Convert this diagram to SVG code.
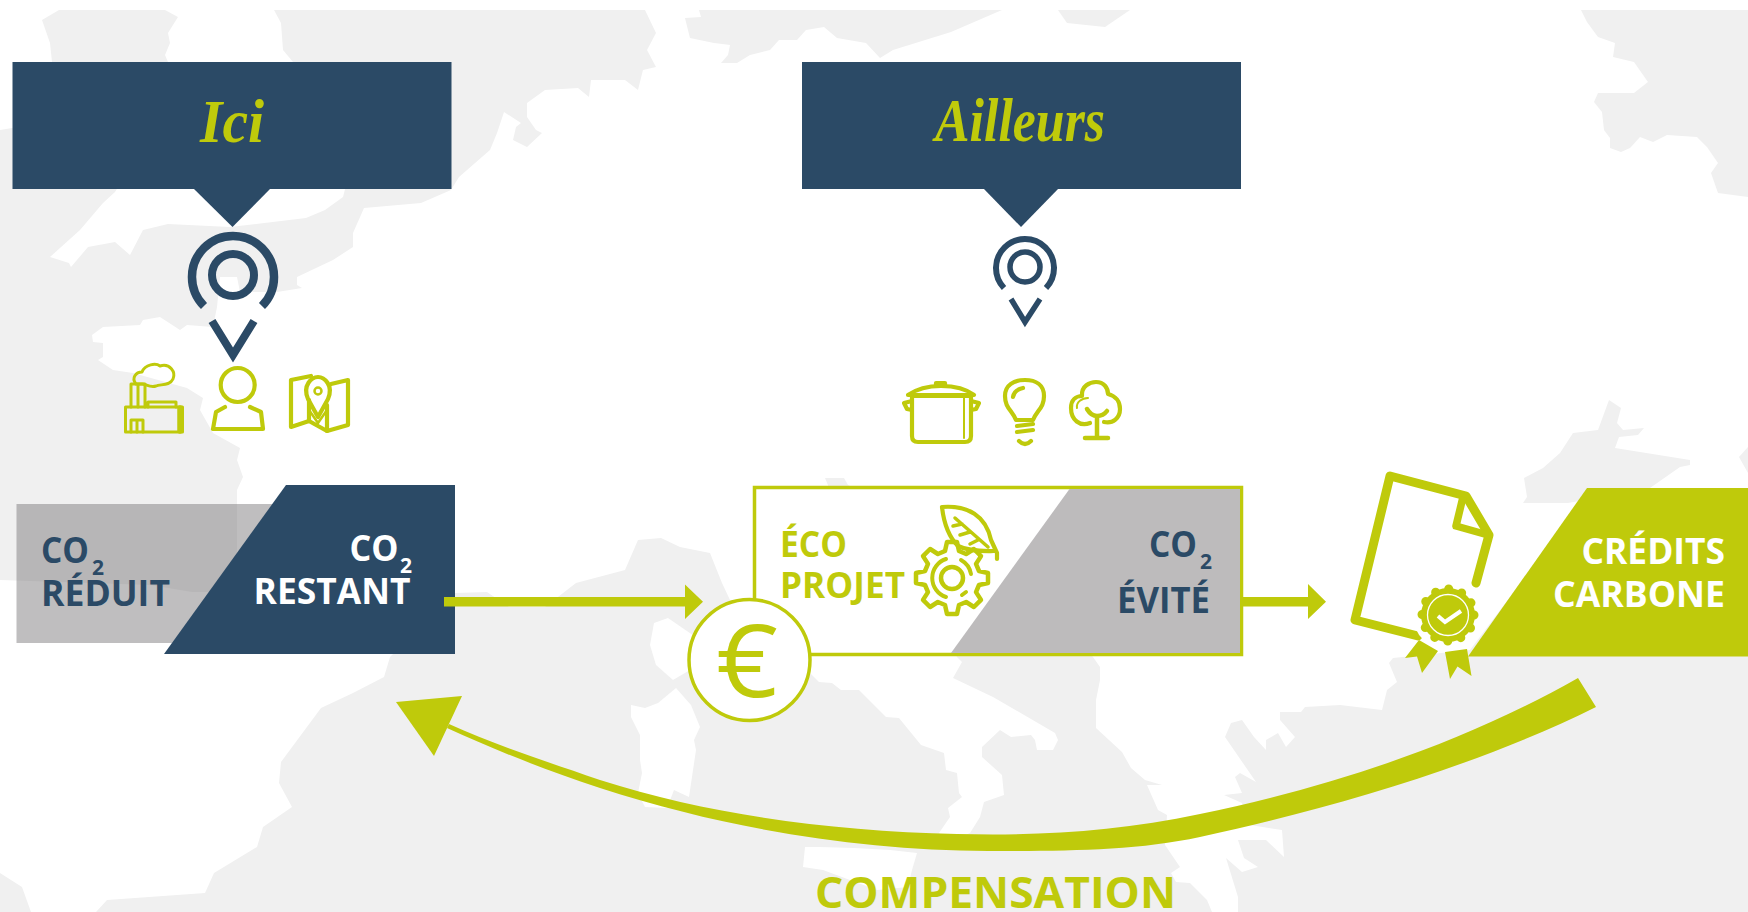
<svg xmlns="http://www.w3.org/2000/svg" width="1748" height="912" viewBox="0 0 1748 912">
<style>
.sea{fill:#f0f0f0}
.land{fill:#fff}
.navy{fill:#2b4a66}
.green{fill:#bfca0b}
.t{font-family:"Open Sans","Liberation Sans",sans-serif;font-weight:700}
.s{font-family:"Liberation Serif",serif;font-style:italic;font-weight:700;fill:#bfca0b;text-anchor:middle}
.tn{fill:#2b4a66}.tw{fill:#fff}.tg{fill:#bfca0b}
.ico{fill:none;stroke:#bfca0b;stroke-width:4.200;stroke-linejoin:round;stroke-linecap:round}
.pin{fill:none;stroke:#2b4a66}
</style>
<rect width="1748" height="912" fill="#fff"/>
<g id="map">
<rect class="sea" x="0" y="10" width="1748" height="902"/>
<polygon class="land" points="0,10 59,10 42,20 50,43 52,62 52,120 12,128 0,130"/>
<polygon class="land" points="165,10 178,17 168,33 170,43 165,55 168,62 160,120 115,192 103,203 80,230 50,257 69,263 71,267 88,247 115,242 130,255 143,230 168,224 230,227 306,218 325,210 343,197 345,189 300,70 293,62 283,50 281,23 274,10"/>
<polygon class="land" points="645,10 656,33 647,50 656,67 643,70 638,90 625,80 591,80 589,97 578,88 545,90 527,103 527,117 536,130 542,133 527,147 513,140 516,127 521,123 504,112 497,133 490,150 459,177 451,190 421,203 364,208 353,233 353,247 333,260 297,277 297,285 302,288 277,292 240,292 237,277 220,277 217,307 213,327 187,325 180,330 160,317 143,320 140,325 103,327 92,335 93,342 103,343 103,357 98,360 113,370 133,373 187,388 203,398 200,410 213,433 240,448 237,460 243,477 237,490 237,575 235,592 192,592 150,585 0,580 0,873 22,887 31,912 96,912 107,900 205,893 214,873 257,847 263,827 292,807 279,783 281,762 321,708 353,693 384,677 390,657 455,593 487,592 509,607 545,607 576,583 625,570 638,540 661,538 680,547 710,553 722,583 730,600 795,660 810,673 819,682 832,683 841,690 859,690 886,717 899,718 921,745 944,753 946,770 957,773 959,793 962,797 948,808 950,817 939,833 950,842 970,833 980,817 984,802 1004,795 1002,775 982,757 982,747 1000,730 1011,737 1031,735 1035,740 1037,750 1053,750 1058,740 1055,733 993,697 953,678 962,662 957,657 900,560 830,490 825,478 844,478 848,485 1000,560 1093,657 1100,667 1100,680 1096,700 1096,728 1122,752 1131,768 1145,780 1162,785 1147,785 1158,810 1167,815 1165,845 1180,867 1171,873 1176,882 1190,883 1207,900 1212,912 1238,912 1238,897 1226,858 1242,872 1258,867 1244,858 1238,840 1266,840 1284,857 1282,830 1250,825 1242,803 1224,795 1242,793 1235,777 1240,773 1256,782 1225,737 1231,723 1242,720 1254,737 1266,750 1266,740 1278,733 1286,747 1295,737 1280,720 1280,712 1301,712 1305,707 1340,705 1382,710 1387,690 1397,682 1389,663 1393,658 1470,650 1568,520 1748,500 1748,10"/>
<polygon class="land" points="668,618 654,623 650,645 656,665 673,680 690,670 700,640"/>
<polygon class="land" points="676,688 658,703 645,708 631,705 631,717 640,735 640,760 642,773 638,793 645,807 667,808 674,790 689,797 696,750 694,740 700,727 691,705"/>
<polygon class="land" points="805,847 819,847 854,848 890,850 917,853 912,870 908,887 877,890 823,870 803,867"/>
<polygon class="sea" points="699,10 701,17 685,18 690,38 714,43 730,45 728,55 721,63 737,63 750,55 770,50 779,40 797,40 806,30 824,27 837,38 866,43 880,58 893,50 951,32 1002,10"/>
<polygon class="sea" points="1058,10 1067,23 1105,27 1130,10"/>
<polygon class="sea" points="1581,10 1587,22 1598,37 1615,43 1613,57 1634,62 1648,82 1634,93 1598,93 1594,102 1602,112 1604,130 1610,138 1610,148 1621,152 1630,148 1640,137 1653,142 1667,135 1697,137 1707,147 1718,163 1711,173 1718,193 1748,197 1748,10"/>
<polygon class="sea" points="1609,400 1621,408 1617,423 1623,430 1644,428 1638,435 1619,437 1615,448 1690,460 1690,465 1680,467 1650,488 1568,503 1523,503 1527,497 1524,478 1543,468 1560,453 1573,433 1598,430"/>
<polygon class="sea" points="1748,447 1739,457 1748,473"/>
</g>
<g id="ici">
<rect class="navy" x="12.500" y="62" width="439" height="127"/>
<polygon class="navy" points="193,188 232.500,227 271,188"/>
<text class="s" x="232" y="142" font-size="62" textLength="64" lengthAdjust="spacingAndGlyphs">Ici</text>
</g>
<g id="pin-ici" class="pin">
<path stroke-width="8.500" d="M204,306A41,41 0 1 1 262,306"/>
<circle cx="233" cy="275" r="21" stroke-width="8"/>
<path stroke-width="8" d="M212,321L233,355L254,321"/>
</g>
<g id="ailleurs">
<rect class="navy" x="802" y="62" width="439" height="127"/>
<polygon class="navy" points="983,188 1021,227 1059,188"/>
<text class="s" x="1020" y="141" font-size="62" textLength="170" lengthAdjust="spacingAndGlyphs">Ailleurs</text>
</g>
<g id="pin-ailleurs" class="pin">
<path stroke-width="6" d="M1004,288A29,29 0 1 1 1046,288"/>
<circle cx="1025" cy="267" r="15" stroke-width="5.500"/>
<path stroke-width="5.500" d="M1011,299L1025,322L1040,299"/>
</g>
<g id="icon-factory" class="ico">
<rect x="125.500" y="407" width="57" height="25" stroke-width="3"/>
<path stroke-width="3" d="M131,407V384H145V407M138,384V407M148,407V402H176V407M131,432V420H143V432M137,420V432"/>
<path stroke-width="5.500" d="M180,408V431"/>
<path stroke-width="3" d="M136,384C131,378 136,372 142,372C145,364 156,363 160,366C170,363 176,372 173,379C170,386 160,384 156,386C150,388 146,384 142,384Z"/>
</g>
<g id="icon-person" class="ico">
<circle cx="237.700" cy="385" r="17"/>
<path d="M225,407L216,412L213,429H263L261,412L250,407"/>
</g>
<g id="icon-map" class="ico">
<path d="M311,376L291,380V427L309,421L327,431L348,425V380L331,384"/>
<path d="M309,400V421M327,405V431"/>
<path d="M318,417L308,399C302,385 312,377 318,377C324,377 334,385 328,399Z"/>
<circle cx="318" cy="391" r="3.500" stroke-width="2.500"/>
<path stroke-width="2.500" d="M309,410L318,423L327,410"/>
</g>
<g id="icon-pot" class="ico">
<path d="M912,396H971V436Q971,442 965,442H918Q912,442 912,436Z"/>
<path d="M908,395C918,388 930,386 941,386C952,386 965,388 974,395Z"/>
<path d="M936,386V383H945V386M912,401L904,403L907,409L912,410M971,401L979,403L976,409L971,410"/>
<path stroke-width="2" d="M964,398V438"/>
</g>
<g id="icon-bulb" class="ico">
<path d="M1016,420C1012,410 1005,408 1005,396C1005,385 1014,380 1025,380C1036,380 1044,385 1044,396C1044,408 1037,410 1033,420Z"/>
<path d="M1017,426L1033,424M1017,432L1033,430M1019,441Q1025,447 1031,441"/>
<path d="M1013,397Q1014,390 1023,388"/>
</g>
<g id="icon-tree" class="ico">
<path d="M1090,423C1080,427 1071,420 1071,408C1071,400 1076,396 1082,396C1081,386 1090,382 1096,382C1104,382 1108,388 1108,394C1116,396 1120,402 1120,409C1120,418 1113,424 1104,422"/>
<path stroke-width="2" d="M1077,408C1076,402 1082,398 1088,398"/>
<path stroke-width="4.500" d="M1087,409C1090,414 1094,416 1097,416C1100,416 1104,415 1107,411M1097,416V437M1085,438H1108"/>
</g>
<g id="reduit">
<rect x="16.500" y="504" width="275" height="139" fill="#777576" fill-opacity=".47"/>
<text class="t tn" x="41" y="563" font-size="35" textLength="48" lengthAdjust="spacingAndGlyphs">CO</text>
<text class="t tn" x="92" y="575" font-size="21">2</text>
<text class="t tn" x="41" y="606" font-size="35" textLength="129" lengthAdjust="spacingAndGlyphs">RÉDUIT</text>
</g>
<g id="restant">
<polygon class="navy" points="286,485 455,485 455,654 164,654"/>
<text class="t tw" x="349.500" y="561" font-size="35" textLength="49" lengthAdjust="spacingAndGlyphs">CO</text>
<text class="t tw" x="400" y="573" font-size="21">2</text>
<text class="t tw" x="253.500" y="604" font-size="35" textLength="157" lengthAdjust="spacingAndGlyphs">RESTANT</text>
</g>
<g id="eco-projet">
<rect x="754.500" y="487.500" width="487" height="167" fill="#fff" stroke="#bfca0b" stroke-width="3.500"/>
<polygon points="1069.500,489 1240,489 1240,653 951,653" fill="#bdbbbc"/>
<text class="t tg" x="780" y="557" font-size="35" textLength="67" lengthAdjust="spacingAndGlyphs">ÉCO</text>
<text class="t tg" x="780" y="598" font-size="35" textLength="125" lengthAdjust="spacingAndGlyphs">PROJET</text>
<text class="t tn" x="1149" y="557" font-size="35" textLength="48" lengthAdjust="spacingAndGlyphs">CO</text>
<text class="t tn" x="1200" y="569" font-size="21">2</text>
<text class="t tn" x="1117" y="613" font-size="35" textLength="93" lengthAdjust="spacingAndGlyphs">ÉVITÉ</text>
<g class="ico" transform="translate(952,578)">
<path stroke-width="4.500" d="M-7,-27L-5,-36L5,-36L7,-27L14.100,-24L21.900,-29L29,-21.900L24,-14.100L27,-7L36,-5L36,5L27,7L24,14.100L29,21.900L21.900,29L14.100,24L7,27L5,36L-5,36L-7,27L-14.100,24L-21.900,29L-29,21.900L-24,14.100L-27,7L-36,5L-36,-5L-27,-7L-24,-14.100L-29,-21.900L-21.900,-29L-14.100,-24Z"/>
<circle r="11" stroke-width="4.500"/>
<path stroke-width="4" d="M-6,-19A20,20 0 0 0 -6,19M9,-18A20,20 0 0 1 19,-4M14,14L10,17"/>
</g>
<g class="ico">
<path stroke-width="4.200" d="M942,507C968,505 986,516 991,540L997,553L997,559M942,507C944,525 950,538 958,546C970,552 985,551 994,551"/>
<path stroke-width="3.500" d="M955,518L988,547M962,524L953,526M970,532L960,535M978,540L970,544"/>
</g>
</g>
<g id="euro">
<circle cx="749.500" cy="660" r="60.500" fill="#fff" stroke="#bfca0b" stroke-width="3.500"/>
<text x="747" y="697" font-size="100" text-anchor="middle" class="tg" font-family="'Open Sans','Liberation Sans',sans-serif" font-weight="400" textLength="62" lengthAdjust="spacingAndGlyphs">€</text>
</g>
<g id="credits">
<polygon class="green" points="1587,488 1748,488 1748,656.500 1468,656.500"/>
<text class="t tw" x="1581.500" y="564" font-size="35" textLength="143.500" lengthAdjust="spacingAndGlyphs">CRÉDITS</text>
<text class="t tw" x="1553" y="606.500" font-size="35" textLength="172" lengthAdjust="spacingAndGlyphs">CARBONE</text>
</g>
<g id="certificat">
<path fill="none" stroke="#bfca0b" stroke-width="9" stroke-linejoin="round" stroke-linecap="round" d="M1476,583L1489,535L1466,496L1390,476L1355,620L1418,636"/>
<path fill="none" stroke="#bfca0b" stroke-width="7.500" stroke-linejoin="round" d="M1463,497L1456,526L1488,535"/>
<polygon class="green" points="1419,640 1405,658 1417,656.500 1422,673 1438,651"/>
<polygon class="green" points="1445,652 1450,679 1457.500,666.500 1471.500,676 1467,649"/>
<circle cx="1448" cy="615" r="35" fill="#fff"/>
<circle cx="1448" cy="615" r="27" fill="#bfca0b"/>
<circle cx="1448" cy="615" r="26" fill="none" stroke="#bfca0b" stroke-width="9" stroke-linecap="round" stroke-dasharray="0 13.610"/>
<circle cx="1448" cy="615" r="20.500" fill="none" stroke="#fff" stroke-width="1.300"/>
<path fill="none" stroke="#fff" stroke-width="4" d="M1438,616L1445,622L1461,611"/>
</g>
<g id="compensation">
<text class="t tg" x="815" y="908" font-size="43" textLength="361" lengthAdjust="spacingAndGlyphs">COMPENSATION</text>
</g>
<g id="connectors">
<path class="green" d="M444,597H685V584.500L703,601.700L685,619V606.500H444Z"/>
<path class="green" d="M1243,597H1308V584L1326,601.700L1308,619V606.500H1243Z"/>
<path class="green" d="M1578,678C1460,745 1330,787 1200,814C1115,832 1035,836 957,834C830,831 710,815 600,780C545,761 495,745 449,724L447,728C495,750 545,770 600,788C730,830 860,850 988,851C1065,851 1135,851 1200,837C1330,809 1480,765 1596,707Z"/>
<polygon class="green" points="396,702 462,696 434,756"/>
</g>
</svg>
